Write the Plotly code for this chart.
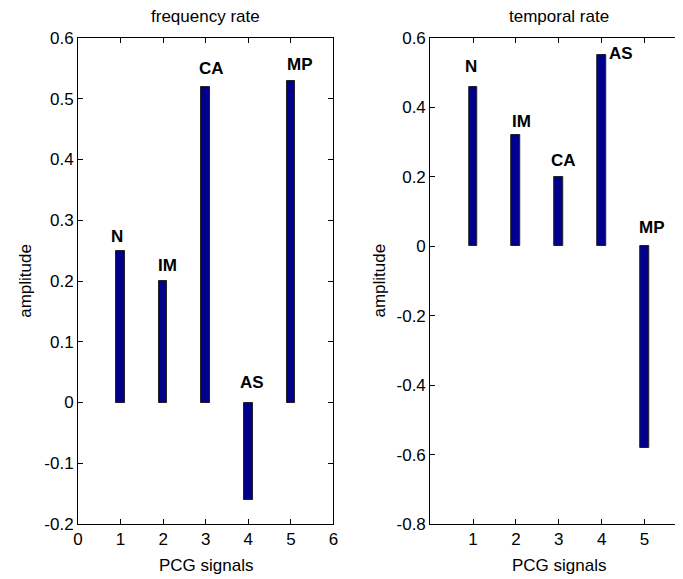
import plotly.graph_objects as go

categories = [1, 2, 3, 4, 5]
labels = ["N", "IM", "CA", "AS", "MP"]
freq_rate = [0.25, 0.20, 0.52, -0.16, 0.53]
temp_rate = [0.46, 0.32, 0.20, 0.55, -0.58]
x_ticks_left = [0, 1, 2, 3, 4, 5, 6]
x_ticks_right = [1, 2, 3, 4, 5]
y_ticks_left = [-0.2, -0.1, 0, 0.1, 0.2, 0.3, 0.4, 0.5, 0.6]
y_ticks_right = [-0.8, -0.6, -0.4, -0.2, 0, 0.2, 0.4, 0.6]

# label placement (layout): horizontal offset in data units, vertical shift in px
left_dx = [-0.08, 0.09, 0.14, 0.09, 0.21]
left_dy = [14, 16, 18, 20, 16]
right_dx = [-0.05, 0.13, 0.10, 0.46, 0.18]
right_dy = [20, 14, 16, 2, 19]

FONT = "Liberation Sans, Arial, Helvetica, sans-serif"
BAR = "#00008C"
OFF = 8                      # page body margin
W, H = 683 - OFF, 579 - OFF  # figure size inside the page
L0, L1 = 74 - OFF, 333.3 - OFF
R0 = 431.5 - OFF
T, B = 38 - OFF, 55

fig = go.Figure()
fig.add_trace(go.Bar(x=categories, y=freq_rate, width=0.2, xaxis="x", yaxis="y",
                     marker=dict(color=BAR, line=dict(color="#222222", width=1)),
                     showlegend=False, hoverinfo="x+y"))
fig.add_trace(go.Bar(x=categories, y=temp_rate, width=0.2, xaxis="x2", yaxis="y2",
                     marker=dict(color=BAR, line=dict(color="#222222", width=1)),
                     showlegend=False, hoverinfo="x+y"))

axis_common = dict(showgrid=False, zeroline=False, showline=True, linecolor="black",
                   linewidth=1, ticks="inside", ticklen=5, tickcolor="black",
                   tickfont=dict(family=FONT, size=17, color="black"))

fig.update_layout(
    width=W, height=H,
    margin=dict(l=0, r=0, t=T, b=B),
    paper_bgcolor="white", plot_bgcolor="white",
    bargap=0,
    xaxis=dict(domain=[L0 / W, L1 / W], range=[0, 6], tickvals=x_ticks_left,
               mirror="ticks", anchor="y", **axis_common),
    yaxis=dict(domain=[0, 1], range=[-0.2, 0.6], tickvals=y_ticks_left,
               ticktext=[f"{v:g}" for v in y_ticks_left],
               mirror="ticks", anchor="x", **axis_common),
    xaxis2=dict(domain=[R0 / W, 1], range=[0, 5.78], tickvals=x_ticks_right,
                mirror="ticks", anchor="y2", **axis_common),
    yaxis2=dict(domain=[0, 1], range=[-0.8, 0.6], tickvals=y_ticks_right,
                ticktext=[f"{v:g}" for v in y_ticks_right],
                mirror=False, anchor="x2", **axis_common),
)

lfont = dict(family=FONT, size=17, color="black")
ann = []
for i, (c, v, lab) in enumerate(zip(categories, freq_rate, labels)):
    ann.append(dict(x=c + left_dx[i], y=max(v, 0), xref="x", yref="y", text=f"<b>{lab}</b>",
                    showarrow=False, yshift=left_dy[i], yanchor="middle", xanchor="center",
                    font=lfont))
for i, (c, v, lab) in enumerate(zip(categories, temp_rate, labels)):
    ann.append(dict(x=c + right_dx[i], y=max(v, 0), xref="x2", yref="y2", text=f"<b>{lab}</b>",
                    showarrow=False, yshift=right_dy[i], yanchor="middle", xanchor="center",
                    font=lfont))

tfont = dict(family=FONT, size=17, color="black")
# titles
ann.append(dict(x=3, y=1, xref="x", yref="y domain", text="frequency rate", showarrow=False,
                yshift=22, yanchor="middle", font=tfont))
ann.append(dict(x=3, y=1, xref="x2", yref="y2 domain", text="temporal rate", showarrow=False,
                yshift=22, yanchor="middle", font=tfont))
# x axis titles
ann.append(dict(x=3, y=0, xref="x", yref="y domain", text="PCG signals", showarrow=False,
                yshift=-41, yanchor="middle", font=tfont))
ann.append(dict(x=3, y=0, xref="x2", yref="y2 domain", text="PCG signals", showarrow=False,
                yshift=-41, yanchor="middle", font=tfont))
# y axis titles
ann.append(dict(x=(20 - OFF) / W, y=0.5, xref="paper", yref="paper", text="amplitude",
                showarrow=False, textangle=-90, xanchor="center", yanchor="middle", font=tfont))
ann.append(dict(x=(379 - OFF) / W, y=0.5, xref="paper", yref="paper", text="amplitude",
                showarrow=False, textangle=-90, xanchor="center", yanchor="middle", font=tfont))
fig.update_layout(annotations=ann)

fig.write_html("out.html")
